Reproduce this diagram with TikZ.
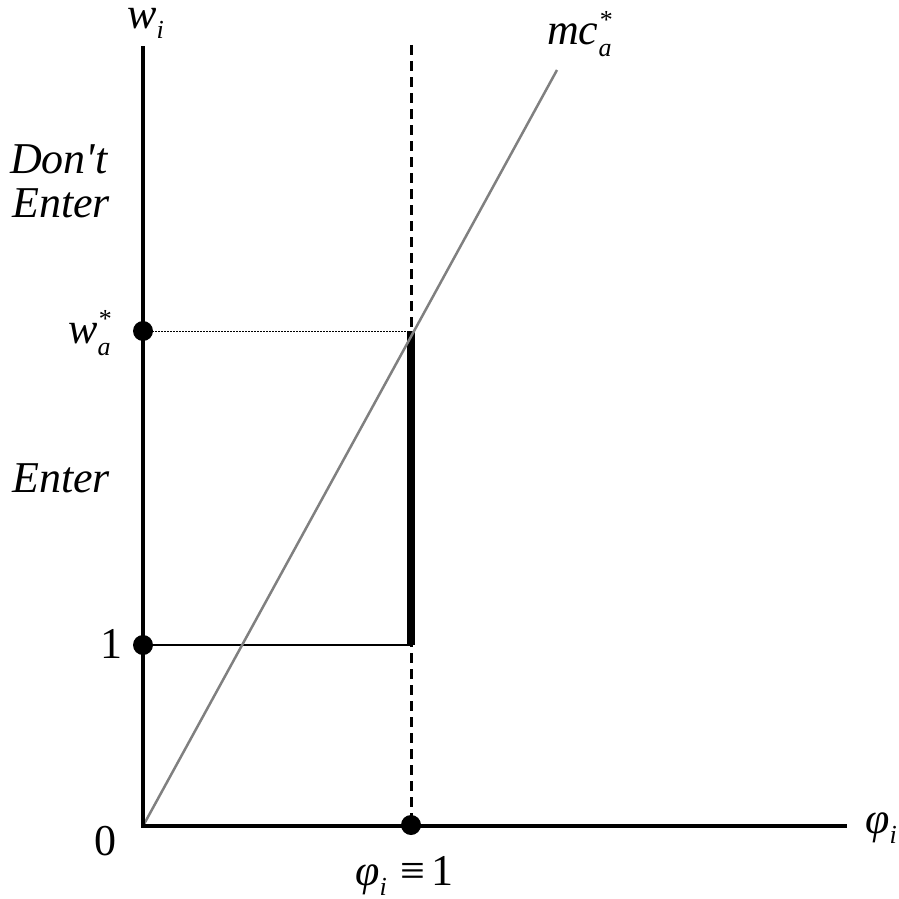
\documentclass[tikz,border=0pt]{standalone}
\usepackage{fontspec}
\setmainfont{Liberation Serif}[Ligatures=TeXOff]
\newcommand\bigsz{\fontsize{44}{44}\selectfont}
\newcommand\smsz{\fontsize{26}{26}\selectfont}
\newcommand\lowsub[1]{\raisebox{-10pt}{\smsz\itshape #1}}
\newcommand\subsupr[2]{\rlap{\raisebox{-12pt}{\smsz\itshape #1}}\raisebox{16pt}{\smsz #2}}
\begin{document}
\begin{tikzpicture}[x=1pt,y=-1pt,
  axis/.style={line width=4pt},
  lbl/.style={inner sep=0pt,anchor=base west,font=\bigsz},
  dot/.style={circle,fill=black,inner sep=0pt,minimum size=20pt}]
\useasboundingbox (0,0) rectangle (898,899);
\coordinate (O) at (143,826);
\coordinate (Ytop) at (143,48);
\coordinate (Xend) at (845,826);
\coordinate (Dtop) at (411,45);
\coordinate (Dbot) at (411,826);
\coordinate (Wstar) at (143,331);
\coordinate (One) at (143,645);
\coordinate (Pw) at (411,331);
\coordinate (P1) at (411,645);
\coordinate (MCend) at (557,70);
% dashed vertical
\draw[line width=3pt,dash pattern=on 10pt off 6pt] (Dtop) -- (Dbot);
% dotted horizontal
\draw[line width=1pt,dash pattern=on 1.5pt off 1.5pt] (Wstar) -- (Pw);
% solid horizontal at 1
\draw[line width=2pt] (One) -- (P1);
% thick vertical segment
\draw[line width=8pt] (Pw) -- (P1);
% mc line
\draw[gray,line width=2.5pt] (O) -- (MCend);
% axes
\draw[axis,line cap=rect] (Ytop) -- (O) -- (Xend);
% dots
\node[dot] (dw) at (Wstar) {};
\node[dot] (d1) at (One) {};
\node[dot] (dphi) at (411,825) {};
% labels
\node[lbl,text height=20pt] (wi) at (127,29) {\itshape w\lowsub{i}};
\node[lbl] (mc) at (547,45) {\itshape mc\subsupr{a}{*}};
\node[lbl] (wa) at (68,343) {\itshape w\subsupr{a}{*}};
\node[lbl] (dont) at (10,173) {\itshape Don't};
\node[lbl] (ent1) at (12,217) {\itshape Enter};
\node[lbl] (ent2) at (12,492) {\itshape Enter};
\node[lbl] (l1) at (100,658) {1};
\node[lbl] (l0) at (94,855) {0};
\node[lbl] (phr) at (865,833) {\itshape φ\lowsub{i}};
\node[lbl] (phb) at (355,885) {{\itshape φ\lowsub{i}}\hspace{14pt}≡\hspace{6pt}1};
\end{tikzpicture}
\end{document}
